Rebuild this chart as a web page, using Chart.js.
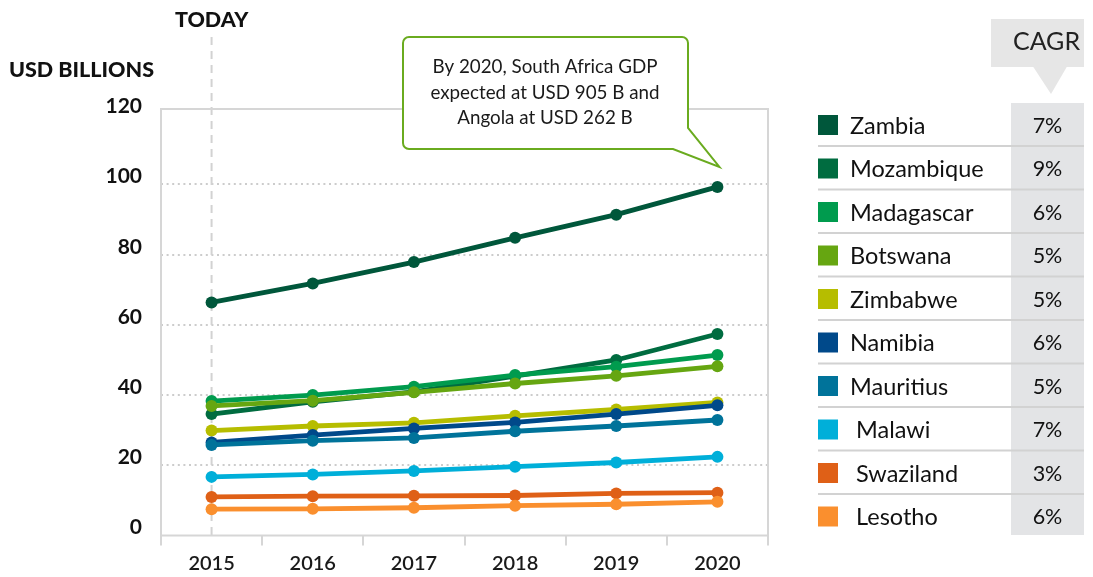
<!DOCTYPE html>
<html>
<head>
<meta charset="utf-8">
<script src="https://cdn.jsdelivr.net/npm/chart.js@4.4.0/dist/chart.umd.min.js"></script>
<style>
  html, body { margin: 0; padding: 0; background: #ffffff; }
  #wrap { position: relative; width: 1093px; height: 577px; }
</style>
</head>
<body>
<div id="wrap"><canvas id="c" width="1093" height="577"></canvas></div>
<script>
// ---------- data ----------
const years = ['2015', '2016', '2017', '2018', '2019', '2020'];
const countries = ['Zambia', 'Mozambique', 'Madagascar', 'Botswana', 'Zimbabwe', 'Namibia', 'Mauritius', ' Malawi', ' Swaziland', ' Lesotho'];
const cagr = ['7%', '9%', '6%', '5%', '5%', '6%', '5%', '7%', '3%', '6%'];

const zambia     = [66.4, 71.8, 77.9, 84.8, 91.4, 99.3];
const mozambique = [34.6, 38.1, 40.9, 45.4, 50.0, 57.4];
const madagascar = [38.3, 40.0, 42.4, 45.7, 48.1, 51.4];
const botswana   = [36.9, 38.4, 40.8, 43.3, 45.5, 48.2];
const zimbabwe   = [29.9, 31.2, 32.1, 34.1, 35.9, 37.9];
const namibia    = [26.5, 28.6, 30.5, 32.2, 34.6, 37.1];
const mauritius  = [25.8, 27.0, 27.8, 29.7, 31.2, 32.9];
const malawi     = [16.7, 17.4, 18.4, 19.6, 20.8, 22.4];
const swaziland  = [11.0, 11.2, 11.3, 11.4, 12.0, 12.2];
const lesotho    = [7.5, 7.6, 7.9, 8.5, 8.9, 9.6];

const yTicks = [0, 20, 40, 60, 80, 100, 120];
const yAxisTitle = 'USD BILLIONS';
const todayLabel = 'TODAY';
const cagrTitle = 'CAGR';
const calloutLines = ['By 2020, South Africa GDP', 'expected at USD 905 B and', 'Angola at USD 262 B'];

// ---------- styles ----------
const palette = ['#00573b', '#006c40', '#009b4e', '#66a611', '#b6bd00', '#00498a', '#00739a', '#00afd9', '#df6017', '#fa8f2e'];
const series = [zambia, mozambique, madagascar, botswana, zimbabwe, namibia, mauritius, malawi, swaziland, lesotho];
const FONT = 'Lato, "Open Sans", sans-serif';
Chart.defaults.font.family = FONT;

const datasets = series.map((d, i) => ({
  label: countries[i].trim(),
  data: d,
  borderColor: palette[i],
  backgroundColor: palette[i],
  pointBackgroundColor: palette[i],
  pointBorderWidth: 0,
  pointRadius: 6,
  borderWidth: 4.8,
  tension: 0,
  order: series.length - i
}));

const decor = {
  id: 'decor',
  beforeDatasetsDraw(chart) {
    const { ctx, chartArea: a, scales: { x } } = chart;
    ctx.save();
    const tx = x.getPixelForValue(0);
    ctx.strokeStyle = '#d2d2d2';
    ctx.lineWidth = 2;
    ctx.setLineDash([8, 6]);
    ctx.beginPath();
    ctx.moveTo(tx, 37);
    ctx.lineTo(tx, a.bottom);
    ctx.stroke();
    ctx.setLineDash([]);
    ctx.strokeStyle = '#d6d6d6';
    ctx.lineWidth = 2;
    ctx.strokeRect(a.left, a.top, a.right - a.left, a.bottom - a.top);
    ctx.restore();
  },
  afterDraw(chart) {
    const { ctx, scales: { x, y } } = chart;
    ctx.save();
    ctx.fillStyle = '#111';
    ctx.font = '900 21.5px ' + FONT;
    ctx.textBaseline = 'middle';
    ctx.textAlign = 'left';
    ctx.fillText(yAxisTitle, 9, 70);
    ctx.textAlign = 'center';
    ctx.fillText(todayLabel, x.getPixelForValue(0), 20);

    // callout
    const L = 403, T = 37, R = 688, B = 149, r = 6;
    const tipX = x.getPixelForValue(5) + 2;
    const tipY = y.getPixelForValue(zambia[5]) - 20;
    ctx.beginPath();
    ctx.moveTo(L + r, T);
    ctx.lineTo(R - r, T);
    ctx.arcTo(R, T, R, T + r, r);
    ctx.lineTo(R, 128);
    ctx.lineTo(tipX, tipY);
    ctx.lineTo(673, B);
    ctx.lineTo(L + r, B);
    ctx.arcTo(L, B, L, B - r, r);
    ctx.lineTo(L, T + r);
    ctx.arcTo(L, T, L + r, T, r);
    ctx.closePath();
    ctx.fillStyle = '#ffffff';
    ctx.fill();
    ctx.strokeStyle = '#6aab1f';
    ctx.lineWidth = 2;
    ctx.stroke();
    ctx.fillStyle = '#1a1a1a';
    ctx.font = '18.8px ' + FONT;
    ctx.textAlign = 'center';
    calloutLines.forEach((t, i) => ctx.fillText(t, 545, 67 + i * 25.7));

    // CAGR header
    ctx.fillStyle = '#e6e6e6';
    ctx.fillRect(991, 19, 93, 48);
    ctx.beginPath();
    ctx.moveTo(1033, 66.5);
    ctx.lineTo(1067, 66.5);
    ctx.lineTo(1051, 94);
    ctx.closePath();
    ctx.fill();
    ctx.fillStyle = '#222';
    ctx.font = '25px ' + FONT;
    ctx.fillText(cagrTitle, 1046.5, 42);

    // CAGR column
    ctx.fillStyle = '#e3e4e6';
    ctx.fillRect(1011, 103, 73, 432);

    // legend rows
    const rowH = 43.5, y0 = 125;
    countries.forEach((name, i) => {
      const cy = y0 + i * rowH;
      ctx.fillStyle = palette[i];
      ctx.fillRect(818, cy - 10, 20, 20);
      ctx.fillStyle = '#111';
      ctx.font = '23.5px ' + FONT;
      ctx.textAlign = 'left';
      ctx.fillText(name, 850, cy + 1);
      ctx.textAlign = 'center';
      ctx.font = '21.5px ' + FONT;
      ctx.fillText(cagr[i], 1047.5, cy + 1);
      if (i < countries.length - 1) {
        ctx.strokeStyle = '#d2d2d2';
        ctx.lineWidth = 2;
        ctx.beginPath();
        ctx.moveTo(818, cy + 21);
        ctx.lineTo(1084, cy + 21);
        ctx.stroke();
      }
    });
    ctx.restore();
  }
};

new Chart(document.getElementById('c'), {
  type: 'line',
  data: { labels: years, datasets },
  options: {
    responsive: false,
    animation: false,
    devicePixelRatio: 1,
    layout: { padding: { top: 109, right: 325, left: 0, bottom: 0 } },
    plugins: { legend: { display: false }, tooltip: { enabled: false } },
    scales: {
      x: {
        offset: true,
        afterFit: s => { s.height = 41.5; },
        grid: { offset: true, drawOnChartArea: false, drawTicks: true, tickLength: 10, color: '#d6d6d6', lineWidth: 2 },
        border: { display: false },
        ticks: { color: '#1a1a1a', padding: 6, font: { size: 20, weight: '600' } }
      },
      y: {
        min: 0,
        max: 121.5,
        afterFit: s => { s.width = 161; },
        afterBuildTicks: s => { s.ticks = yTicks.map(v => ({ value: v })); },
        grid: {
          drawTicks: false,
          lineWidth: 2,
          color: c => (c.tick && (c.tick.value === 0 || c.tick.value === 120)) ? 'rgba(0,0,0,0)' : '#cccccc'
        },
        border: { display: false, dash: [2, 3.6] },
        ticks: {
          color: '#111',
          padding: 19,
          font: { size: 21, weight: 'bold', lineHeight: 0.75 },
          callback: v => [String(v), '']
        }
      }
    }
  },
  plugins: [decor]
});
</script>
</body>
</html>
